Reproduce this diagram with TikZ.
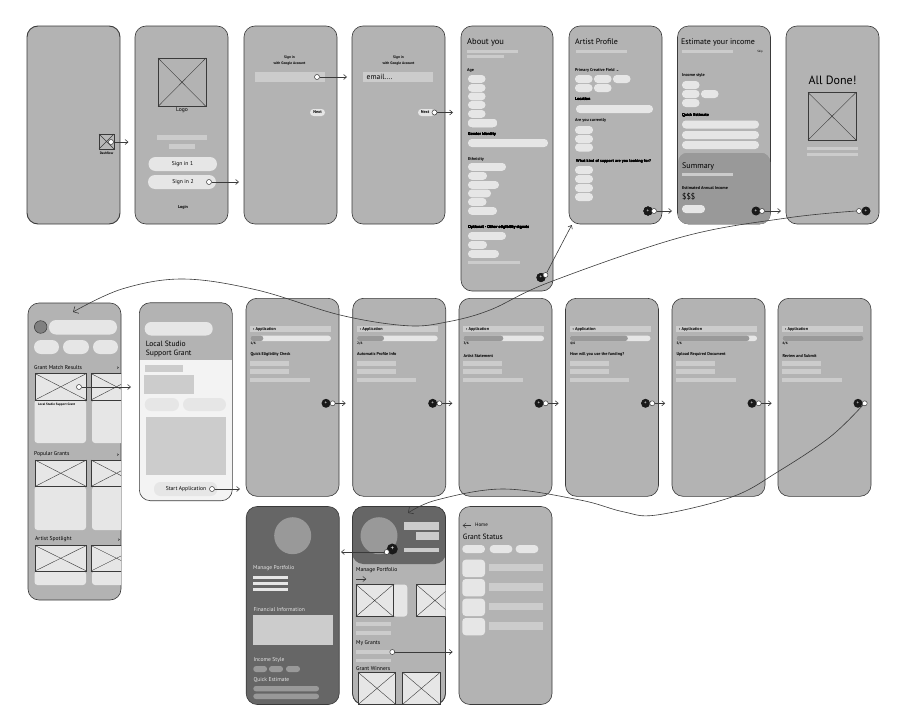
\documentclass[tikz,border=0pt]{standalone}
\usepackage{fontspec}
\setmainfont{PT Sans}
\newfontfamily\symfont{DejaVu Sans}
\usetikzlibrary{arrows.meta, positioning}

\definecolor{screengrey}{HTML}{B3B3B3}
\definecolor{bargrey}{HTML}{CCCCCC}
\definecolor{pillgrey}{HTML}{E6E6E6}
\definecolor{darkgrey}{HTML}{666666}
\definecolor{midgrey}{HTML}{999999}
\definecolor{linegrey}{HTML}{3A3A3A}

\newcommand{\bbar}[5][bargrey]{\fill[#1] (#2,#3) rectangle (#4,#5);}
\newcommand{\pill}[5][3.8pt]{\fill[pillgrey, rounded corners=#1] (#2,#3) rectangle (#4,#5);}
\newcommand{\xbox}[5][none]{
    \draw[linegrey, line width=.6pt, fill=#1] (#2,#3) rectangle (#4,#5);
    \draw[linegrey, line width=.4pt] (#2,#3) -- (#4,#5) (#2,#5) -- (#4,#3);
}

\begin{document}
\begin{tikzpicture}
    [
        x=1pt, y=-1pt,
        screen/.style={rectangle, draw=linegrey, fill=screengrey, line width=.6pt, rounded corners=11pt, inner sep=0pt, outer sep=0pt, minimum width=93pt, minimum height=198pt},
        hot/.style={circle, draw=linegrey, fill=white, line width=.5pt, inner sep=0pt, minimum size=5pt},
        go/.style={circle, fill=black!90, text=white, inner sep=0pt, minimum size=9pt, font=\fontsize{5}{5}\selectfont},
        link/.style={draw=linegrey, line width=.6pt, -{Straight Barb[length=3pt, width=5pt]}},
        longlink/.style={draw=linegrey, line width=.6pt, -{Straight Barb[length=4pt, width=8pt]}},
        head/.style={anchor=west, inner sep=0pt, text=black, font=\fontsize{8}{9}\selectfont},
        lab/.style={anchor=west, inner sep=0pt, text=black, font=\fontsize{5.6}{6}\selectfont},
        small/.style={anchor=west, inner sep=0pt, text=black, font=\fontsize{4.2}{5}\selectfont\bfseries},
        soft/.style={anchor=west, inner sep=0pt, text=black!10, font=\fontsize{5.6}{6}\selectfont},
    ]
    \useasboundingbox (0,0) rectangle (908,728);

    % top row
    \node (splash) at (73.5,125) [screen, line width=.9pt] {};
    \node (login) at (181.5,125) [screen] {};
    \node (google) at (290.5,125) [screen] {};
    \node (email) at (398.5,125) [screen] {};
    \node (about) at (507,158.5) [screen, minimum width=92pt, minimum height=265pt] {};
    \node (profile) at (615.5,125) [screen] {};
    \node (income) at (724,125) [screen] {};
    \node (done) at (832.5,125) [screen] {};

    % splash
    \xbox[midgrey!70]{99}{134}{114}{149}
    \node (dashflow) at (106.5,153.5) [small, anchor=center, font=\fontsize{3.4}{4}\selectfont\bfseries] {Dashflow};
    \node (hotsplash) at (111,142) [hot] {};

    % login
    \xbox{158}{58}{206}{106.5}
    \node (logo) at (182,110.5) [lab, anchor=center] {Logo};
    \bbar{157}{135}{207}{140}
    \bbar{169}{144}{195}{149}
    \pill[7pt]{148.5}{157}{217}{171}
    \pill[7pt]{148}{175}{216}{189}
    \node (signone) at (182.5,164) [lab, anchor=center] {Sign in 1};
    \node (signtwo) at (183,182) [lab, anchor=center] {Sign in 2};
    \node (hotlogin) at (209,182) [hot] {};
    \node (loginlab) at (183,207) [small, anchor=center] {Login};

    % google
    \node (signa) at (289.5,58) [small, anchor=center, font=\fontsize{3.6}{4}\selectfont\bfseries] {Sign in};
    \node (witha) at (289.5,63.5) [small, anchor=center, font=\fontsize{3.6}{4}\selectfont\bfseries] {with Google Account};
    \bbar{255}{72}{325}{82}
    \node (hotgoogle) at (317,77) [hot] {};
    \pill[3.5pt]{310}{109}{325}{116}
    \node (nexta) at (317.5,112.5) [small, anchor=center] {Next};

    % email
    \node (signb) at (398.5,58) [small, anchor=center, font=\fontsize{3.6}{4}\selectfont\bfseries] {Sign in};
    \node (withb) at (398.5,63.5) [small, anchor=center, font=\fontsize{3.6}{4}\selectfont\bfseries] {with Google Account};
    \bbar{363}{72}{433}{82}
    \node (emailtxt) at (366.5,77) [head, font=\fontsize{7.5}{8}\selectfont] {email....};
    \pill[3.5pt]{418}{109}{435}{116}
    \node (nextb) at (425,112.5) [small, anchor=center] {Next};
    \node (hotemail) at (434.5,112.5) [hot] {};

    % about you
    \node (abouttxt) at (467,42) [head, font=\fontsize{8.5}{9}\selectfont] {About you};
    \bbar{467}{49.5}{518}{53}
    \bbar{467}{54.5}{504}{58}
    \node (agelab) at (467,70) [small] {Age};
    \foreach \y in {75,84,92.5,101,110} \pill{468}{\y}{485.5}{\y+7.8}
    \pill{468}{119}{497}{127}
    \node (genderlab) at (468,134) [small] {Gender Identity};
    \pill{468}{139}{548}{147}
    \node (ethlab) at (468,159) [small] {Ethnicity};
    \foreach \y/\r in {163/506,172/487,181/499,189.5/491,198/486.5,207/497} \pill{468}{\y}{\r}{\y+7.8}
    \node (optlab) at (468,227) [small] {Optional - Other eligibility signals};
    \foreach \y/\r in {232/506,241/487,250/499} \pill{468}{\y}{\r}{\y+7.8}
    \bbar{468}{261}{520}{264}
    \node (goabout) at (541,277.5) [go] {+};
    \node (hotabout) at (545.5,275) [hot] {};

    % artist profile
    \node (profiletxt) at (575,42) [head] {Artist Profile};
    \bbar{576}{49.5}{627}{53}
    \node (fieldlab) at (575,70) [small] {Primary Creative Field {\symfont ⌄}};
    \foreach \x/\y in {575/75,594/75,613/75,575/84,594/84} \pill{\x}{\y}{\x+17.5}{\y+8}
    \node (locationlab) at (575,99) [small] {Location};
    \pill{576}{105}{653}{113}
    \node (currentlab) at (575,120) [small] {Are you currently};
    \foreach \y in {126,135,143.5} \pill{575}{\y}{593}{\y+8}
    \node (supportlab) at (576,161) [small] {What kind of support are you looking for?};
    \foreach \y in {166,175,184,193} \pill{575}{\y}{593}{\y+8}
    \node (goprofile) at (648,211) [go] {+};
    \node (hotprofile) at (654,211) [hot] {};

    % estimate your income
    \node (incometxt) at (681,42) [head] {Estimate your income};
    \bbar{682}{49.5}{733}{53}
    \node (skip) at (760,52) [small, anchor=center, font=\fontsize{3}{3}\selectfont] {Skip};
    \node (stylelab) at (682,75) [small] {Income style};
    \foreach \x/\y in {682/81,682/90,701/90,682/99} \pill{\x}{\y}{\x+17.5}{\y+8}
    \node (quicklab) at (682,115) [small] {Quick Estimate};
    \foreach \y in {120.5,131,141} \pill{682}{\y}{759}{\y+8}
    \fill[midgrey, rounded corners=9pt] (678.3,153) rectangle (770,223.7);
    \node (summary) at (682,166) [head] {Summary};
    \bbar{682}{173}{733}{176}
    \node (annual) at (682,188) [small] {Estimated Annual Income};
    \node (money) at (682,197) [head] {\$\$\$};
    \pill{682}{205}{705}{213}
    \node (goincome) at (756,211) [go] {+};
    \node (hotincome) at (762,211) [hot] {};

    % all done
    \node (donetxt) at (832.5,80) [head, anchor=center, font=\fontsize{12}{13}\selectfont] {All Done!};
    \xbox{808}{92.5}{856}{140}
    \bbar{807}{147}{858}{150}
    \bbar{807}{153}{858}{156}
    \node (godone) at (866,211) [go] {+};
    \node (hotdone) at (859,211) [hot] {};

    % grant list
    \node (list) at (74.5,451.5) [screen, minimum height=297pt] {};
    \draw[linegrey, line width=.5pt, fill=gray] (40.7,327) circle (6.3);
    \pill[7pt]{49}{320}{117}{334.5}
    \pill[7pt]{34}{340}{59}{354}
    \pill[7pt]{63}{340}{89}{354}
    \pill[7pt]{93}{340}{118}{354}
    \node (matchlab) at (34,367.5) [lab] {Grant Match Results};
    \node (matchmore) at (118,368.5) [small, anchor=center] {>};
    \node (popularlab) at (34,454) [lab] {Popular Grants};
    \node (popularmore) at (118,455) [small, anchor=center] {>};
    \node (spotlab) at (35,539) [lab] {Artist Spotlight};
    \node (spotmore) at (119,540) [small, anchor=center] {>};
    \begin{scope}
        \clip (28,303) rectangle (121,600);
        \foreach \t/\h/\b in {373.5/26.5/43,460/26.5/43.5,545.5/25.5/14} {
            \pill[3pt]{34.5}{\t+\h}{86}{\t+\h+\b}
            \pill[3pt]{92}{\t+\h}{140}{\t+\h+\b}
            \xbox[pillgrey]{35}{\t}{86.5}{\t+\h}
            \xbox[pillgrey]{91}{\t}{142}{\t+\h}
        }
    \end{scope}
    \node (cardlab) at (38,404.5) [small, font=\fontsize{3.2}{4}\selectfont\bfseries] {Local Studio Support Grant};
    \node (hotlist) at (79,387) [hot] {};

    % grant detail
    \begin{scope}
        \clip[rounded corners=11pt] (139.3,302.7) rectangle (232.3,500.7);
        \fill[screengrey] (139.3,302.7) rectangle (232.3,360);
        \fill[pillgrey!50] (139.3,360) rectangle (232.3,500.7);
    \end{scope}
    \node (detail) at (185.8,401.7) [screen, fill=none] {};
    \pill[6.5pt]{144.7}{322}{212.7}{335.5}
    \node (grantone) at (145.7,344) [head, font=\fontsize{7.6}{8}\selectfont] {Local Studio};
    \node (granttwo) at (145.7,353.5) [head, font=\fontsize{7.6}{8}\selectfont] {Support Grant};
    \bbar{144.7}{365}{182.7}{371.5}
    \bbar{144.3}{375}{193.7}{393.5}
    \pill[6.5pt]{144.7}{398}{179}{411}
    \pill[6.5pt]{183}{398}{226}{411}
    \bbar{145.7}{416.7}{226.3}{475}
    \pill[6.5pt]{154}{482}{217.3}{496}
    \node (starttxt) at (186,489) [lab, anchor=center] {Start Application};
    \node (hotdetail) at (212,489) [hot] {};

    % application steps
    \foreach \n/\xo/\prog/\ty/\step in {1/246/13/354/Quick Eligibility Check,2/352.7/27/354/Automatic Profile Info,3/459/40/356/Artist Statement,4/565.5/58/354/How will you use the funding?,5/672/73/354/Upload Required Document,6/778/81/356/Review and Submit} {
        \node (app\n) at (\xo+46.5,397.3) [screen] {};
        \bbar{\xo+4.3}{326}{\xo+85}{332}
        \node (applab\n) at (\xo+7,329) [small] {‹ Application};
        \pill[2.6pt]{\xo+4.3}{335.7}{\xo+85}{341}
        \fill[midgrey, rounded corners=2.6pt] (\xo+4.3,335.7) rectangle (\xo+4.3+\prog,341);
        \node (num\n) at (\xo+4.3,344) [small, font=\fontsize{3.4}{4}\selectfont\bfseries] {\n/6};
        \node (steplab\n) at (\xo+4.3,\ty) [small] {\step};
        \bbar{\xo+4.3}{361}{\xo+43}{365.5}
        \bbar{\xo+4.3}{369}{\xo+43}{373.5}
        \bbar{\xo+4.3}{378}{\xo+63.5}{382}
        \node (goapp\n) at (\xo+80,403.3) [go] {+};
        \node (hotapp\n) at (\xo+86.7,403.3) [hot] {};
        \coordinate (tipapp\n) at (\xo+99.7,403.3);
    }

    % portfolio
    \node (manage) at (292.7,605.5) [screen, fill=darkgrey] {};
    \fill[midgrey] (292.7,535.7) circle (18.5);
    \node (managelab) at (253,568.5) [soft] {Manage Portfolio};
    \bbar[pillgrey]{253.3}{575.5}{288.3}{578.5}
    \bbar[pillgrey]{253.3}{581.5}{288.3}{584.5}
    \bbar[pillgrey]{253.3}{587.5}{288.3}{590.5}
    \node (finlab) at (253.3,610) [soft] {Financial Information};
    \bbar{253.3}{615}{333.3}{645}
    \node (stylelabb) at (253.3,660) [soft] {Income Style};
    \foreach \x/\r in {253.3/267,269/283,286/300} \fill[midgrey, rounded corners=2.8pt] (\x,666) rectangle (\r,672);
    \node (quicklabb) at (253.3,680) [soft] {Quick Estimate};
    \fill[midgrey, rounded corners=2.6pt] (253.3,686) rectangle (319,691.3);
    \fill[midgrey, rounded corners=2.6pt] (253.3,693.7) rectangle (319,699);

    % home
    \node (home) at (399,605.5) [screen] {};
    \fill[darkgrey, rounded corners=11pt] (352.3,506.7) rectangle (445.7,564);
    \node (homeframe) at (399,605.5) [screen, fill=none] {};
    \fill[midgrey] (379,535.7) circle (18.5);
    \bbar{404}{522}{439.3}{529.5}
    \bbar{415.7}{532}{439.3}{539.5}
    \bbar{404}{547.5}{439.3}{551.5}
    \node (gohome) at (392.3,549) [go, minimum size=11pt, font=\fontsize{7}{7}\selectfont] {+};
    \node (hothome) at (386.7,552) [hot] {};
    \coordinate (tiphome) at (341,552);
    \node (homelab) at (356,570.5) [lab] {Manage Portfolio};
    \coordinate (scrollstart) at (356,579);
    \coordinate (scrolltip) at (366.3,579);
    \draw[link] (scrollstart) -- (scrolltip);
    \pill[3pt]{393}{584.5}{407.3}{616.5}
    \xbox[pillgrey]{356}{584.5}{393.3}{616.5}
    \begin{scope}
        \clip (352.3,580) rectangle (445.7,620);
        \xbox[pillgrey]{416.3}{584.5}{453.6}{616.5}
    \end{scope}
    \bbar{356}{622}{390.7}{626}
    \bbar{356}{631}{390.7}{634.5}
    \node (mygrants) at (356,643) [lab] {My Grants};
    \bbar{356}{650}{390.7}{654}
    \bbar{356}{658.7}{390.7}{662}
    \node (hotgrants) at (392.3,652) [hot] {};
    \node (winners) at (356,669) [lab] {Grant Winners};
    \xbox[pillgrey]{358.3}{672.5}{395.7}{704.3}
    \xbox[pillgrey]{402.7}{672.5}{440}{704.3}

    % grant status
    \node (status) at (505.5,605.5) [screen] {};
    \coordinate (backstart) at (470.7,525.5);
    \coordinate (backtip) at (462.7,525.5);
    \draw[link, line width=.4pt] (backstart) -- (backtip);
    \node (backlab) at (475,525) [small, font=\fontsize{5}{5}\selectfont] {Home};
    \node (statustxt) at (462.7,536.5) [head, font=\fontsize{7.6}{8}\selectfont] {Grant Status};
    \pill{462.3}{545}{485}{553}
    \pill{489.7}{545}{512.3}{553}
    \pill{515.7}{545}{538.3}{553}
    \foreach \y in {559.7,579,598.7,618} {
        \pill[3.5pt]{462.3}{\y}{485}{\y+17.3}
        \bbar{489}{\y+4}{542.7}{\y+11.7}
    }

    % connectors
    \coordinate (tipsplash) at (128.5,142);
    \coordinate (tiplogin) at (239,182);
    \coordinate (tipgoogle) at (347,77);
    \coordinate (tipemail) at (453,112.5);
    \coordinate (tipabout) at (571.7,225);
    \coordinate (tipprofile) at (672,211);
    \coordinate (tipincome) at (781,211);
    \coordinate (tiplist) at (131,387);
    \coordinate (tipdetail) at (240,489);
    \coordinate (tipgrants) at (452.7,652);
    \coordinate (tipdone) at (73,312);
    \coordinate (tipstatus) at (408,513);

    \draw[link] (hotsplash) -- (tipsplash);
    \draw[link] (hotlogin) -- (tiplogin);
    \draw[link] (hotgoogle) -- (tipgoogle);
    \draw[link] (hotemail) -- (tipemail);
    \draw[link] (hotabout) -- (tipabout);
    \draw[link] (hotprofile) -- (tipprofile);
    \draw[link] (hotincome) -- (tipincome);
    \draw[link] (hotlist) -- (tiplist);
    \draw[link] (hotdetail) -- (tipdetail);
    \draw[link] (hotgrants) -- (tipgrants);
    \draw[link] (hothome) -- (tiphome);
    \foreach \n in {1,...,5} \draw[link] (hotapp\n) -- (tipapp\n);

    \draw[longlink] plot[smooth, tension=.6] coordinates {(hotdone.west) (786.7,218) (683,236.7) (550,282) (490,310) (446.7,322) (406.7,325.7) (340,315) (257,290) (183,279) (122,289) (tipdone)};
    \draw[longlink] plot[smooth, tension=.6] coordinates {(hotapp6.south west) (830,437) (778,471.7) (731.7,497) (656.7,515) (623,511.7) (580,500) (503,489) (436.7,500) (tipstatus)};
\end{tikzpicture}
\end{document}
